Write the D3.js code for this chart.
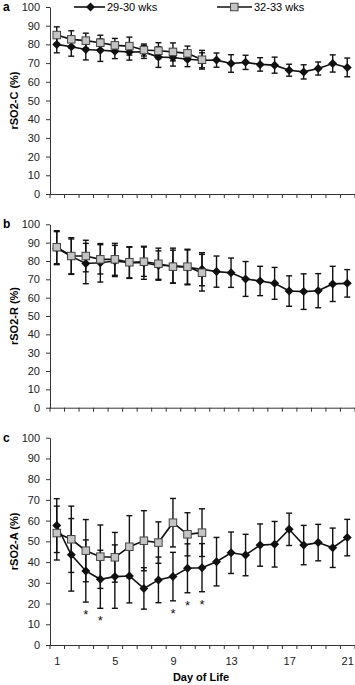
<!DOCTYPE html>
<html>
<head>
<meta charset="utf-8">
<script src="https://cdn.jsdelivr.net/npm/d3@7"></script>
<style>
  body { margin: 0; background: #fff; }
  svg { display: block; font-family: "Liberation Sans", Arial, sans-serif; }
</style>
</head>
<body>
<div id="chart"></div>
<script>
const days = [1, 2, 3, 4, 5, 6, 7, 8, 9, 10, 11, 12, 13, 14, 15, 16, 17, 18, 19, 20, 21];
const yTicks = [0, 10, 20, 30, 40, 50, 60, 70, 80, 90, 100];
const xLabelDays = [1, 5, 9, 13, 17, 21];
const seriesNames = ["29-30 wks", "32-33 wks"];

// rSO2-C
const cMean2930 = [80, 78.7, 77.3, 76.9, 76.4, 75.9, 76, 73.2, 73, 72.1, 71.5, 71.6, 69.8, 70.4, 69.3, 68.9, 66.2, 65.3, 67.1, 69.8, 67.7];
const cSd2930 = [4.5, 5, 5.6, 6, 4, 4.3, 3.5, 5.5, 4.6, 4, 4, 3.8, 4.7, 3.8, 3.6, 4.3, 3.2, 3.8, 3.5, 4.6, 5];
const cMean3233 = [85, 82.7, 82, 80.9, 79.5, 79.1, 77, 76.6, 76, 75.2, 71.8];
const cSd3233 = [4.4, 4.6, 4, 4, 3.7, 4.8, 3.2, 4.3, 4.8, 3.9, 5];

// rSO2-R
const rMean2930 = [87, 82.5, 78.6, 79, 80, 79, 79, 77.5, 77.5, 76.5, 75.5, 74.2, 73.6, 70.2, 69.1, 67.8, 63.6, 63.3, 63.8, 67.5, 67.8];
const rSd2930 = [9, 9.5, 11, 10.5, 8.5, 8.5, 9, 8, 9.5, 9.5, 9, 8.5, 8, 9.5, 8, 8.7, 8.3, 9.7, 9.3, 9.6, 7.5];
const rMean3233 = [87.5, 82.7, 82.7, 80.9, 80.9, 79.3, 79.6, 78.5, 76.9, 76.9, 73.6];
const rSd3233 = [9, 10, 8.6, 8, 8.7, 8.5, 8, 8.5, 9, 9.5, 10];

// rSO2-A
const aMean2930 = [57.6, 43.5, 35.7, 31.7, 33, 33.3, 27.3, 31.4, 33, 37, 37.3, 40.2, 44.5, 43.4, 48.2, 48.6, 55.8, 48.2, 49.4, 46.9, 51.8];
const aSd2930 = [13, 17.5, 15, 14, 15.3, 13, 10, 11, 11.7, 11.8, 11.6, 11.7, 10, 10, 10.2, 11, 7.8, 9.5, 8.8, 9.5, 8.8];
const aMean3233 = [54, 51, 45.5, 42.6, 42.3, 47.4, 50.3, 49.4, 59, 53.4, 54.2];
const aSd3233 = [13, 16, 15, 15.3, 12, 15, 14.5, 10, 11.7, 10.4, 11.5];
const aStarDays = [3, 4, 9, 10, 11];

const width = 355, height = 685;
const svg = d3.select("#chart").append("svg").attr("width", width).attr("height", height);

const x = d3.scaleLinear().domain([0.5, 21.5]).range([49.5, 354.5]);
const boundaries = d3.range(0.5, 21.6, 1);

const panels = [
  { letter: "a", title: "rSO2-C (%)", top: 7, bottom: 194, m1: cMean2930, s1: cSd2930, m2: cMean3233, s2: cSd3233, stars: [] },
  { letter: "b", title: "rSO2-R (%)", top: 224.3, bottom: 407.7, m1: rMean2930, s1: rSd2930, m2: rMean3233, s2: rSd3233, stars: [] },
  { letter: "c", title: "rSO2-A (%)", top: 437.7, bottom: 645, m1: aMean2930, s1: aSd2930, m2: aMean3233, s2: aSd3233, stars: aStarDays }
];

function diamond(g, cx, cy, r) {
  g.append("path").attr("d", `M${cx},${cy - r}L${cx + r},${cy}L${cx},${cy + r}L${cx - r},${cy}Z`).attr("fill", "#111");
}
function square(g, cx, cy, s) {
  g.append("rect").attr("x", cx - s / 2).attr("y", cy - s / 2).attr("width", s).attr("height", s)
    .attr("fill", "#c4c4c4").attr("stroke", "#444").attr("stroke-width", 1);
}

panels.forEach((p, pi) => {
  const y = d3.scaleLinear().domain([0, 100]).range([p.bottom, p.top]);
  const g = svg.append("g");

  const yAxis = g.append("g").attr("transform", "translate(50,0)")
    .call(d3.axisLeft(y).tickValues(yTicks).tickSize(4).tickSizeOuter(0).tickPadding(6));
  yAxis.selectAll("text").style("font-size", "11px").style("fill", "#222");
  yAxis.selectAll("line,path").attr("stroke", "#333");

  const xAxis = g.append("g").attr("transform", `translate(0,${p.bottom})`)
    .call(d3.axisBottom(x).tickValues(boundaries).tickFormat("").tickSize(4).tickSizeOuter(0));
  xAxis.selectAll("line,path").attr("stroke", "#333");

  if (pi === 2) {
    const xl = g.append("g").attr("transform", `translate(0,${p.bottom})`)
      .call(d3.axisBottom(x).tickValues(xLabelDays).tickFormat(d3.format("d")).tickSize(0).tickPadding(12));
    xl.select(".domain").remove();
    xl.selectAll("text").style("font-size", "11px").style("fill", "#222");
  }

  g.append("text").attr("x", 3).attr("y", p.top + 4).style("font-size", "12px").style("font-weight", "bold").text(p.letter);

  g.append("text").attr("transform", `translate(18,${(p.top + p.bottom) / 2}) rotate(-90)`)
    .attr("text-anchor", "middle").style("font-size", "11px").style("font-weight", "bold").text(p.title);

  const series = [
    { mean: p.m1, sd: p.s1, kind: "diamond" },
    { mean: p.m2, sd: p.s2, kind: "square" }
  ];

  series.forEach(s => {
    const pts = s.mean.map((v, i) => ({ day: days[i], v, sd: s.sd[i] }));
    const eb = g.append("g").attr("stroke", "#111").attr("stroke-width", 1.4);
    pts.forEach(d => {
      const cx = x(d.day);
      eb.append("line").attr("x1", cx).attr("x2", cx).attr("y1", y(d.v + d.sd)).attr("y2", y(d.v - d.sd));
      [d.v + d.sd, d.v - d.sd].forEach(e => {
        eb.append("line").attr("x1", cx - 3).attr("x2", cx + 3).attr("y1", y(e)).attr("y2", y(e));
      });
    });
    const line = d3.line().x(d => x(d.day)).y(d => y(d.v));
    g.append("path").datum(pts).attr("fill", "none").attr("stroke", "#111").attr("stroke-width", 1.6).attr("d", line);
    pts.forEach(d => {
      if (s.kind === "diamond") diamond(g, x(d.day), y(d.v), 4.5);
      else square(g, x(d.day), y(d.v), 7.5);
    });
  });

  p.stars.forEach(day => {
    const i = days.indexOf(day);
    g.append("text").attr("x", x(day)).attr("y", y(p.m1[i] - p.s1[i]) + 17)
      .attr("text-anchor", "middle").style("font-size", "13px").style("fill", "#111").text("*");
  });
});

// legend
const lg = svg.append("g");
lg.append("line").attr("x1", 74).attr("x2", 105).attr("y1", 7).attr("y2", 7).attr("stroke", "#111").attr("stroke-width", 1.6);
diamond(lg, 90.5, 7, 4.5);
lg.append("text").attr("x", 107).attr("y", 11).style("font-size", "11px").text(seriesNames[0]);
lg.append("line").attr("x1", 217).attr("x2", 252).attr("y1", 7).attr("y2", 7).attr("stroke", "#111").attr("stroke-width", 1.6);
square(lg, 234.3, 7, 7.5);
lg.append("text").attr("x", 254).attr("y", 11).style("font-size", "11px").text(seriesNames[1]);

svg.append("text").attr("x", 201).attr("y", 681).attr("text-anchor", "middle")
  .style("font-size", "11px").style("font-weight", "bold").text("Day of Life");
</script>
</body>
</html>
